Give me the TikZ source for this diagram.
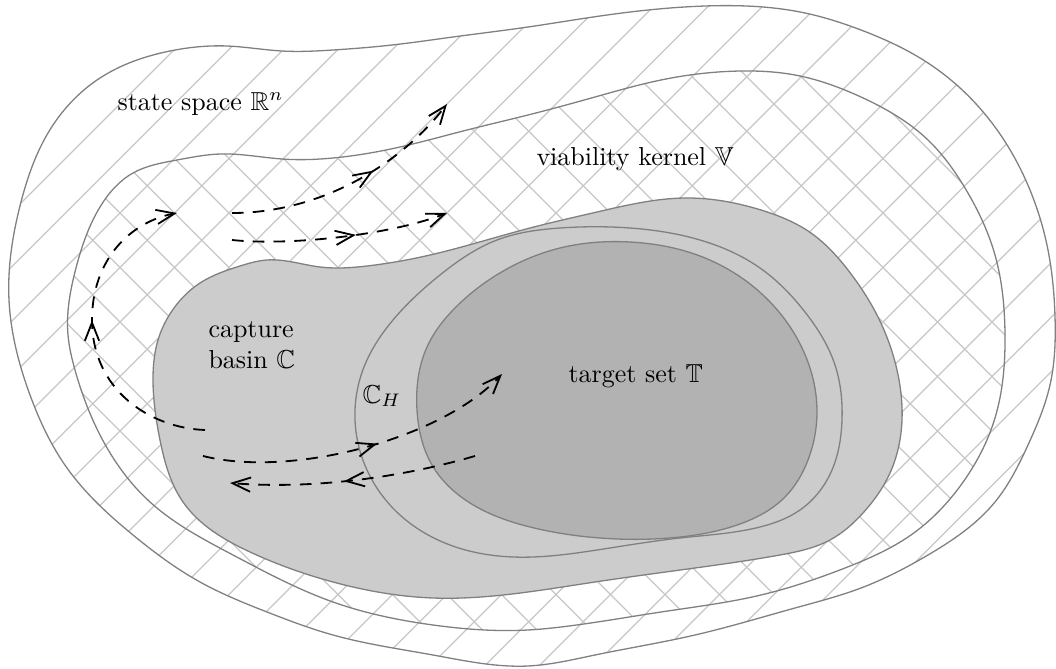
\documentclass[tikz,border=0pt]{standalone}
\usepackage{amssymb}
\usetikzlibrary{arrows.meta,decorations.markings,hobby}
\begin{document}
\begin{tikzpicture}[x=0.385pt,y=-0.385pt,
  outline/.style={draw=gray, line width=0.5pt},
  hatchline/.style={draw=black!22, line width=0.45pt},
  flow/.style={line width=0.7pt, dash pattern=on 4.5pt off 3.5pt,
    -{Straight Barb[length=7pt,width=5.5pt]},
    postaction={decorate},
    decoration={markings, mark=at position #1 with {\arrow{Straight Barb[length=7pt,width=5.5pt]}}}},
  flow/.default=0.5,
  lbl/.style={inner sep=0pt}
]
\useasboundingbox (0,0) rectangle (1056,669);
\def\outerC{plot[closed hobby] coordinates {(9,300) (21,202) (48,133) (100,78) (170,51) (227,46) (282,51) (333,50) (392,45) (453,37) (528,27) (600,16) (705,6) (805,13) (861,30) (928,63) (995,127) (1030,190) (1048,250) (1055,316) (1050,385) (1028,445) (995,502) (928,555) (861,588) (795,608) (695,635) (595,655) (528,666) (433,655) (333,635) (267,612) (200,582) (133,535) (67,468) (30,395)}}
\def\kernelC{plot[closed hobby] coordinates {(68,335) (76,268) (100,207) (133,173) (177,160) (220,154) (282,159) (333,158) (400,147) (467,130) (528,115) (595,97) (661,80) (741,71) (795,75) (861,97) (928,140) (965,188) (995,255) (1005,333) (995,418) (961,485) (911,535) (845,568) (761,595) (661,612) (561,627) (528,630) (433,625) (333,602) (233,555) (150,502) (100,435) (75,370)}}
\def\captureC{plot[closed hobby] coordinates {(153,380) (158,340) (174,308) (200,283) (240,266) (267,260) (320,267) (367,266) (430,255) (530,228) (597,212) (685,198) (761,210) (811,233) (848,270) (878,317) (897,370) (902,420) (890,473) (863,513) (830,540) (780,555) (695,568) (595,582) (528,592) (433,598) (333,582) (250,552) (183,502) (160,440)}}
\def\chC{plot[closed hobby] coordinates {(355,420) (364,367) (393,320) (440,275) (497,240) (560,228) (630,228) (700,240) (760,268) (805,312) (835,365) (842,420) (832,470) (800,510) (760,527) (680,538) (597,550) (513,557) (450,545) (400,515) (367,470)}}
\def\targetC{plot[closed hobby] coordinates {(417,410) (427,347) (458,305) (505,270) (560,248) (630,242) (700,256) (763,295) (803,350) (817,413) (808,460) (785,497) (740,524) (680,537) (600,538) (530,527) (470,503) (432,465)}}
% hatching
\begin{scope}
  \clip \outerC;
  \foreach \k in {0,...,33} \draw[hatchline] ({6+54.5*\k+5},-5) -- ({6+54.5*\k-675},675);
\end{scope}
\begin{scope}
  \clip \kernelC;
  \foreach \k in {-13,...,20} \draw[hatchline] ({16+54.5*\k-5},-5) -- ({16+54.5*\k+675},675);
\end{scope}
% regions
\draw[outline] \outerC;
\draw[outline] \kernelC;
\draw[outline, fill=gray!40] \captureC;
\draw[outline, fill=gray!40] \chC;
\draw[outline, fill=gray!60] \targetC;
% labels
\node[lbl, anchor=base west] (lss) at (117,110) {state space $\mathbb{R}^n$};
\node[lbl, anchor=base west] (lvk) at (536,165) {viability kernel $\mathbb{V}$};
\node[lbl, anchor=west, align=left] (lcb) at (208,345) {capture\\basin $\mathbb{C}$};
\node[lbl, anchor=base west] (lch) at (362,403) {$\mathbb{C}_H$};
\node[lbl, anchor=base west] (lts) at (568,382) {target set $\mathbb{T}$};
% flows
\coordinate (a1) at (232,213); \coordinate (a2) at (447,104);
\coordinate (b1) at (232,240); \coordinate (b2) at (447,213);
\coordinate (c1) at (205,430); \coordinate (c2) at (177,213);
\coordinate (d1) at (203,456); \coordinate (d2) at (502,374);
\coordinate (e1) at (475,456); \coordinate (e2) at (230,483);
\draw[flow=0.6] (a1) .. controls (320,213) and (400,165) .. (a2);
\draw[flow=0.57] (b1) .. controls (290,246) and (390,235) .. (b2);
\draw[flow=0.54] (c1) .. controls (150,428) and (92,390) .. (92,320) .. controls (92,260) and (130,222) .. (c2);
\draw[flow=0.55] (d1) .. controls (290,478) and (440,440) .. (d2);
\draw[flow=0.54] (e1) .. controls (410,475) and (320,490) .. (e2);
\end{tikzpicture}
\end{document}
